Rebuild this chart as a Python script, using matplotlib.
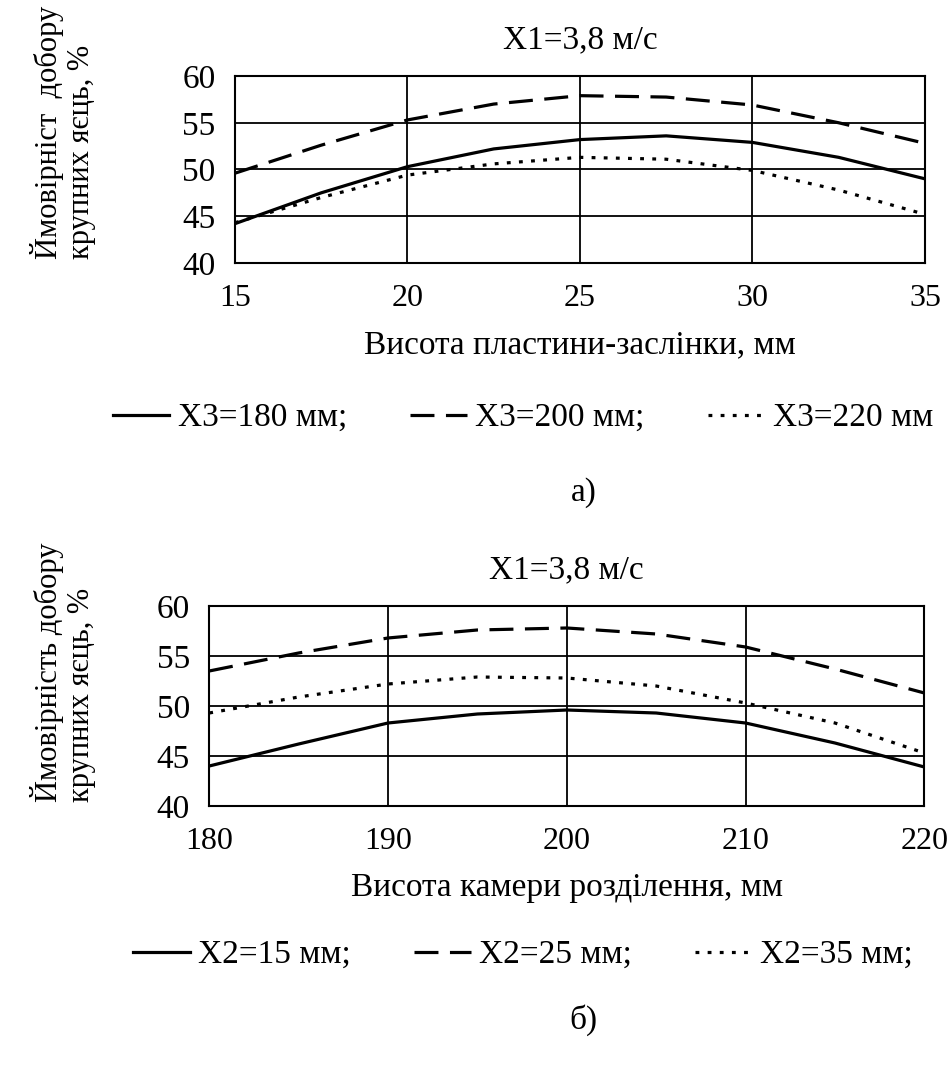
import matplotlib
matplotlib.use('Agg')
import matplotlib.pyplot as plt

plt.rcParams['font.family'] = ['Liberation Serif', 'DejaVu Serif']

# chart a) - height of the plate-damper
x_a = [15, 17.5, 20, 22.5, 25, 27.5, 30, 32.5, 35]
a_180 = [44.2, 47.5, 50.3, 52.2, 53.2, 53.6, 52.9, 51.3, 49.0]
a_200 = [49.6, 52.6, 55.3, 57.0, 57.9, 57.75, 56.9, 55.0, 52.8]
a_220 = [44.3, 47.0, 49.4, 50.6, 51.3, 51.1, 49.9, 47.8, 45.2]
labels_a = ['X3=180 мм;', 'X3=200 мм;', 'X3=220 мм']

# chart б) - height of the separation chamber
x_b = [180, 185, 190, 195, 200, 205, 210, 215, 220]
b_15 = [44.0, 46.2, 48.3, 49.2, 49.6, 49.3, 48.3, 46.3, 43.9]
b_25 = [53.5, 55.3, 56.8, 57.6, 57.8, 57.2, 55.9, 53.7, 51.3]
b_35 = [49.3, 50.9, 52.2, 52.9, 52.8, 52.0, 50.3, 48.3, 45.3]
labels_b = ['X2=15 мм;', 'X2=25 мм;', 'X2=35 мм;']

fs = 24
lw = 2.3
styles = [dict(linestyle='-'),
          dict(linestyle=(0, (7.5, 3.6))),
          dict(linestyle=(0, (1.2, 2.6)))]

fig = plt.figure(figsize=(9.51, 10.68), dpi=100)
ax1 = fig.add_axes([0.247, 0.7538, 0.7256, 0.1750])
ax2 = fig.add_axes([0.220, 0.2453, 0.752, 0.1873])


def draw(ax, x, series, labels, xticks, xlabel, ylabel, caption, leg_y, cap_y):
    for ys, lab, st in zip(series, labels, styles):
        ax.plot(x, ys, color='black', linewidth=lw, label=lab, **st)
    ax.set_xlim(xticks[0], xticks[-1])
    ax.set_ylim(40, 60)
    ax.set_xticks(xticks)
    ax.set_yticks([40, 45, 50, 55, 60])
    ax.grid(True, color='black', linewidth=1.3)
    ax.tick_params(axis='x', length=0, labelsize=23, pad=15)
    ax.tick_params(axis='y', length=0, labelsize=fs, pad=14)
    for s in ax.spines.values():
        s.set_linewidth(1.5)
    ax.set_title('X1=3,8 м/с', fontsize=fs, pad=20)
    ax.set_xlabel(xlabel, fontsize=fs, labelpad=12)
    fig.legend(*ax.get_legend_handles_labels(), loc='center',
               bbox_to_anchor=(0.55, leg_y), ncol=3,
               frameon=False, fontsize=fs, handlelength=1.7,
               handletextpad=0.25, columnspacing=1.9, borderpad=0)
    pos = ax.get_position()
    fig.text(0.066, pos.y0 + 0.004, ylabel, rotation=90,
             ha='center', va='bottom', multialignment='left',
             fontsize=22, linespacing=1.15)
    fig.text(0.614, cap_y, caption, ha='center', va='center', fontsize=fs)


draw(ax1, x_a, [a_180, a_200, a_220], labels_a, [15, 20, 25, 30, 35],
     'Висота пластини-заслінки, мм',
     'Ймовірніст  добору\nкрупних яєць, %', 'а)',
     1 - 418 / 1068, 1 - 493 / 1068)
draw(ax2, x_b, [b_15, b_25, b_35], labels_b, [180, 190, 200, 210, 220],
     'Висота камери розділення, мм',
     'Ймовірність добору\nкрупних яєць, %', 'б)',
     1 - 955 / 1068, 1 - 1020 / 1068)

fig.savefig('out.png', dpi=100, facecolor='white')
